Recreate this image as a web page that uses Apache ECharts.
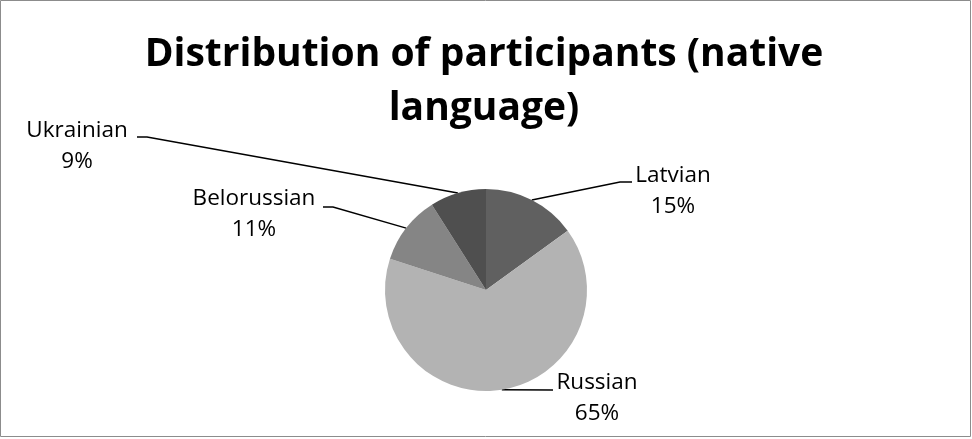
<!DOCTYPE html>
<html>
<head>
<meta charset="utf-8">
<script src="https://cdn.jsdelivr.net/npm/echarts@6/dist/echarts.min.js"></script>
<style>
  html, body { margin: 0; padding: 0; background: #ffffff; }
  #chart { width: 972px; height: 439px; }
</style>
</head>
<body>
<div id="chart"></div>
<script>
// Native language of participants (share, %)
const languages = ['Latvian', 'Russian', 'Belorussian', 'Ukrainian'];
const shares = [15, 65, 11, 9];
const sliceColors = ['#606060', '#b3b3b3', '#858585', '#4f4f4f'];
const chartTitle = 'Distribution of participants (native\nlanguage)';

// Where each label block sits and where its leader line bends
const labelSpots = [
  { x: 673, y: 191, bend: [620, 182], end: [632, 182] },
  { x: 597, y: 398, bend: [553, 390], end: null },
  { x: 254, y: 214, bend: [333, 207], end: [323, 207] },
  { x: 77,  y: 146, bend: [147, 137], end: [137, 137] }
];

const chart = echarts.init(document.getElementById('chart'));

chart.setOption({
  animation: false,
  backgroundColor: '#ffffff',
  graphic: [
    {
      type: 'rect',
      shape: { x: 0.5, y: 0.5, width: 970, height: 436 },
      style: { fill: null, stroke: '#8c8c8c', lineWidth: 1 },
      silent: true
    },
    {
      type: 'text',
      x: 484,
      y: 28,
      silent: true,
      style: {
        text: chartTitle,
        align: 'center',
        verticalAlign: 'top',
        fontFamily: 'Open Sans',
        fontWeight: 'bold',
        fontSize: 39,
        lineHeight: 54,
        fill: '#000000'
      }
    }
  ],
  series: [{
    type: 'pie',
    center: [486, 290],
    radius: 101,
    startAngle: 90,
    clockwise: true,
    silent: true,
    data: languages.map((name, i) => ({
      name,
      value: shares[i],
      itemStyle: { color: sliceColors[i] }
    })),
    label: {
      show: true,
      position: 'outside',
      formatter: '{b}\n{c}%',
      fontFamily: 'Open Sans',
      fontSize: 22.5,
      lineHeight: 31,
      color: '#000000',
      align: 'center'
    },
    labelLine: {
      show: true,
      lineStyle: { color: '#000000', width: 1.5 }
    },
    labelLayout: function (params) {
      const spot = labelSpots[params.dataIndex];
      const start = params.labelLinePoints ? params.labelLinePoints[0] : spot.bend;
      const pts = [start, spot.bend];
      if (spot.end) pts.push(spot.end);
      return {
        x: spot.x,
        y: spot.y,
        align: 'center',
        verticalAlign: 'middle',
        labelLinePoints: pts
      };
    }
  }]
});
</script>
</body>
</html>
